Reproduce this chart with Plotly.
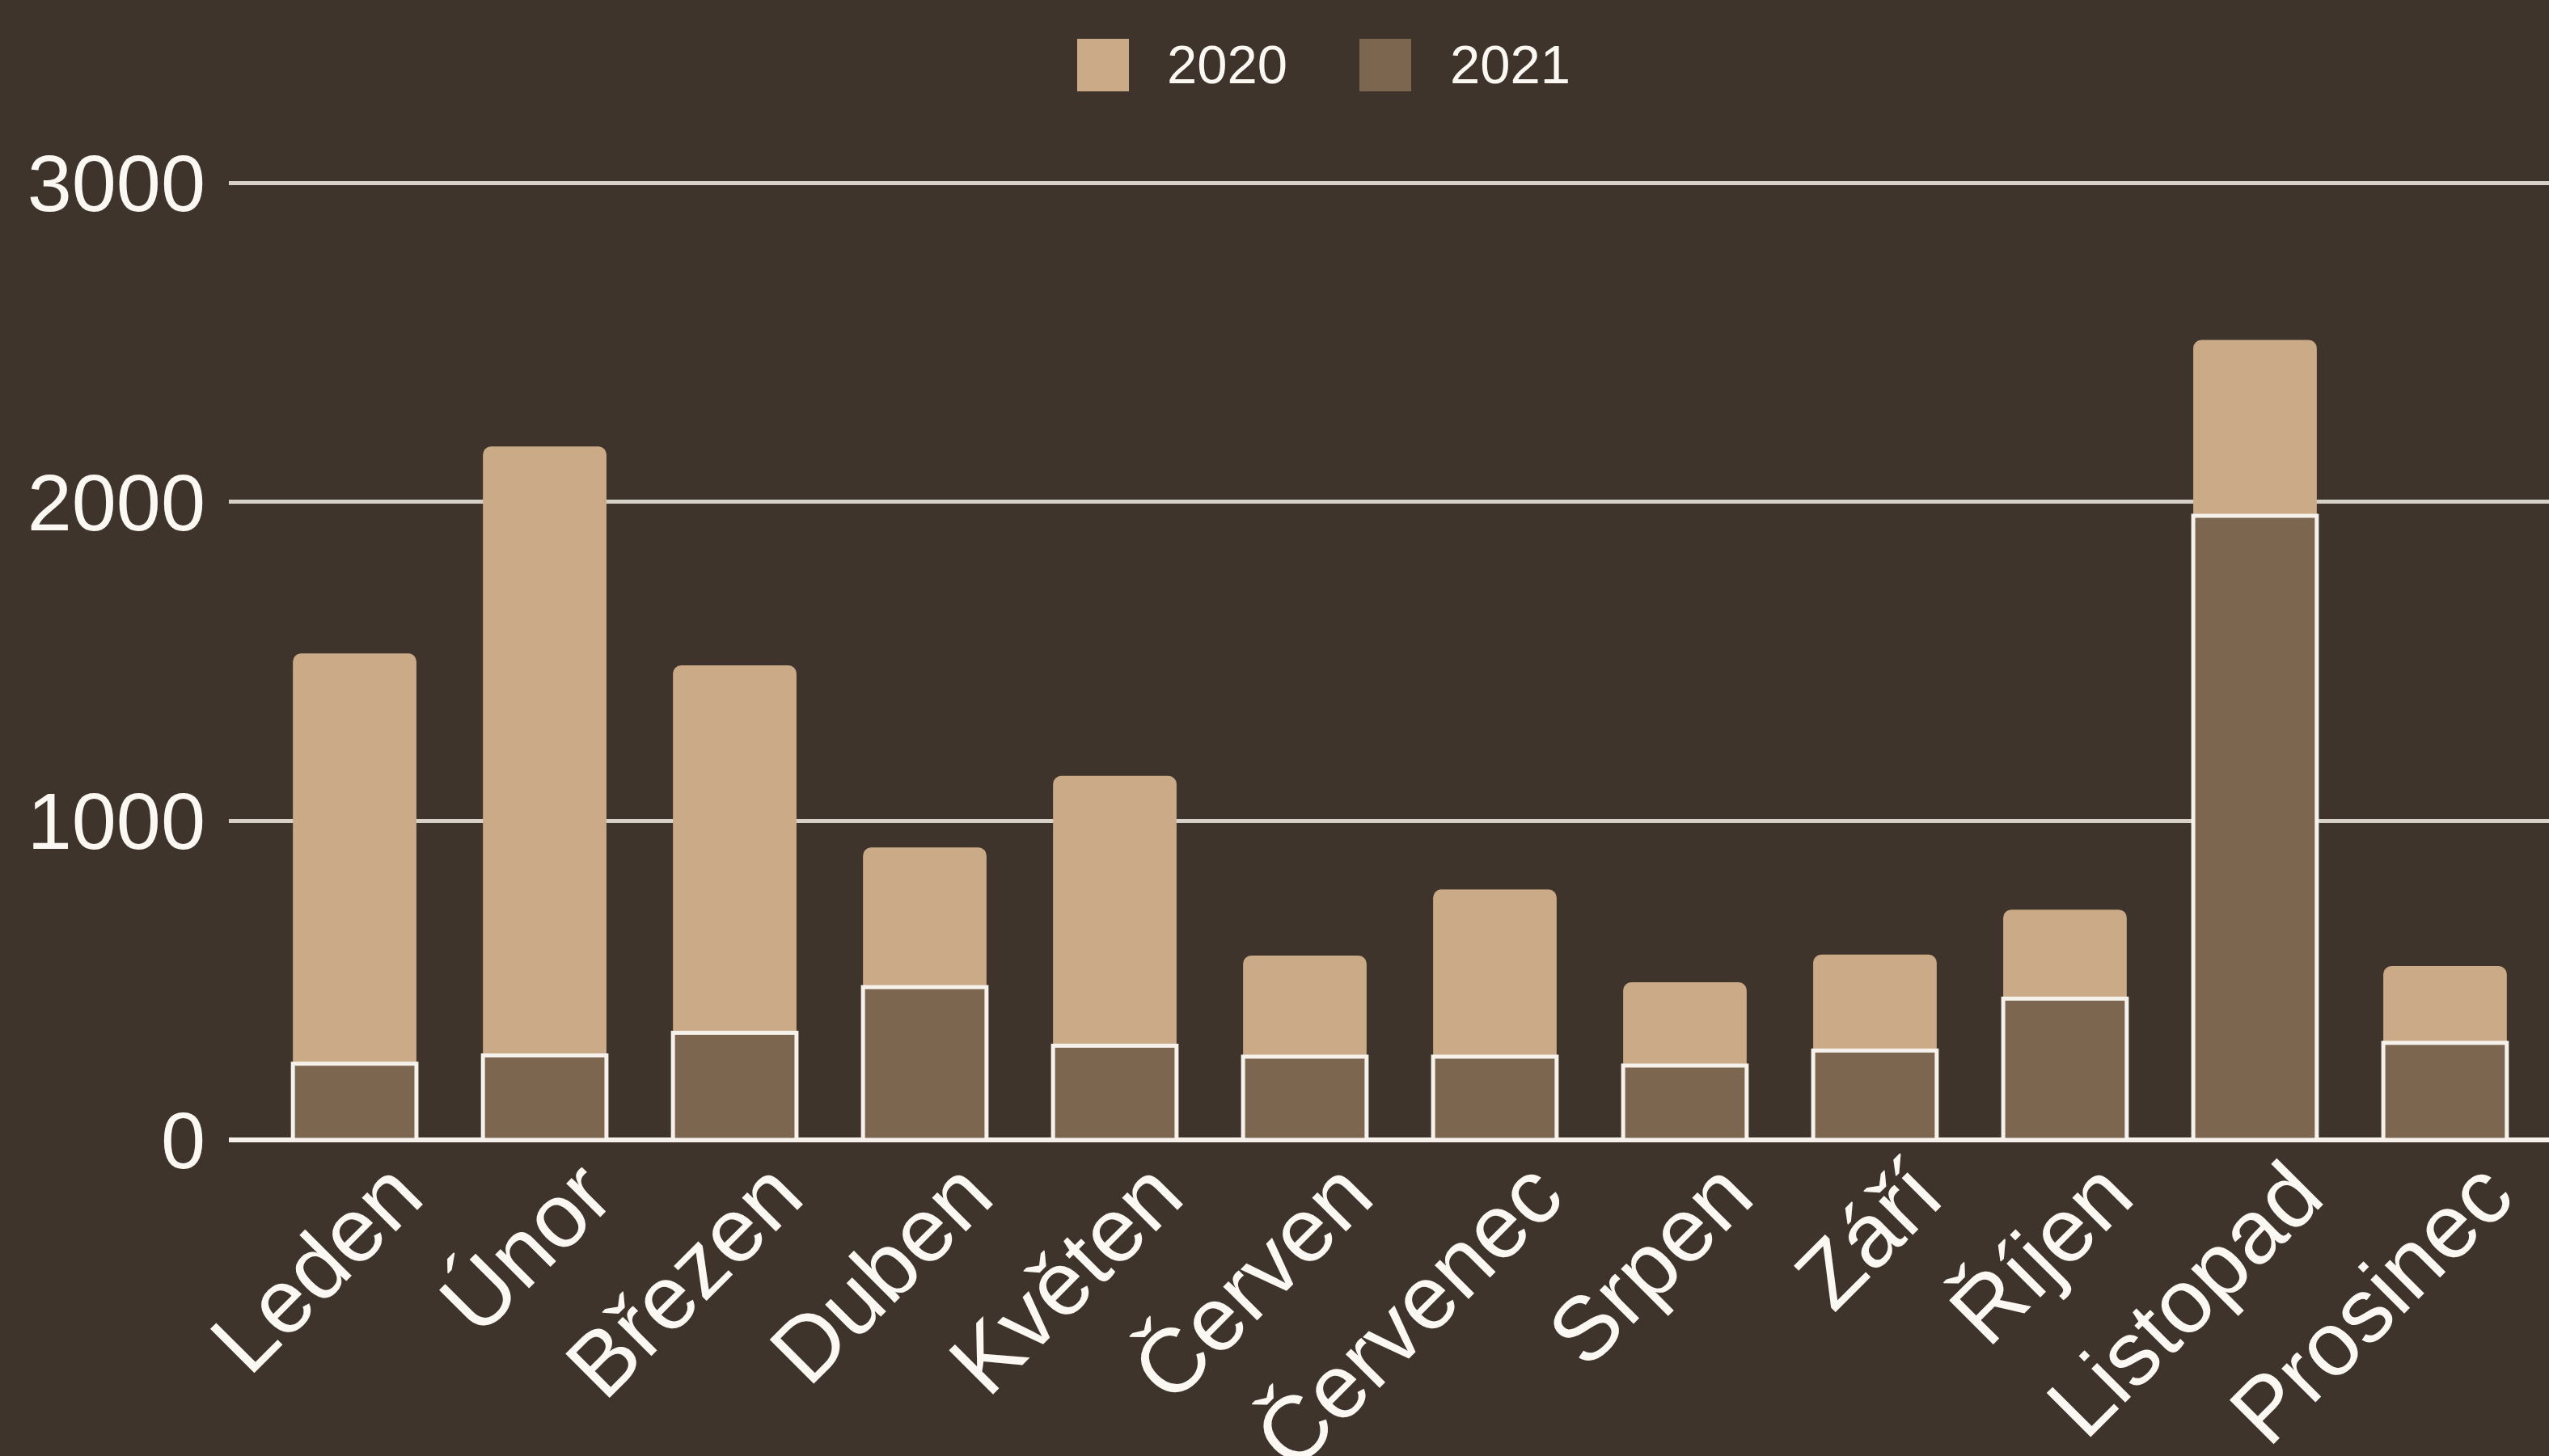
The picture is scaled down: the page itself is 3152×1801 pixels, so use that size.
import unicodedata
import plotly.graph_objects as go

months = ["Leden", "\u00danor", "B\u0159ezen", "Duben", "Kv\u011bten", "\u010cerven",
          "\u010cervenec", "Srpen", "Z\u00e1\u0159\u00ed", "\u0158\u00edjen", "Listopad", "Prosinec"]
months = [unicodedata.normalize("NFC", m) for m in months]
values_2020 = [1525, 2174, 1488, 917, 1141, 578, 785, 494, 581, 722, 2508, 545]
values_2021 = [239, 265, 336, 479, 295, 261, 261, 233, 280, 443, 1957, 304]
series_names = ["2020", "2021"]
y_ticks = [0, 1000, 2000, 3000]

W, H = 3152, 1801
BG = "#3e342b"
C2020 = "#cbab87"
C2021 = "#7c664f"
TXT = "#fbf8f3"
FONT = "Liberation Sans, Arial, Helvetica, sans-serif"

# plot geometry (pixels)
L, R_, B = 283, 0, 391
y_top_val = 3100
px_per_unit = 1184 / 3000
T = int(round((H - B) - y_top_val * px_per_unit))
plot_w = W - L - R_
plot_h = H - T - B

fig = go.Figure()
fig.add_trace(go.Bar(
    x=months, y=values_2020, name=series_names[0],
    marker=dict(color=C2020, line=dict(width=0), cornerradius=10),
    width=0.65, showlegend=False,
))
fig.add_trace(go.Bar(
    x=months, y=values_2021, name=series_names[1],
    marker=dict(color=C2021, line=dict(color="#f6f1ea", width=5)),
    width=0.65, showlegend=False,
))

# legend drawn manually (large square swatches)
def px_to_paper_x(px):
    return (px - L) / plot_w

def py_to_paper_y(py):
    return ((H - B) - py) / plot_h

legend_items = [(series_names[0], C2020, 1332, 1441), (series_names[1], C2021, 1681, 1791)]
shapes = []
annotations = []
for name, col, sx, tx in legend_items:
    shapes.append(dict(
        type="rect", xref="paper", yref="paper",
        x0=px_to_paper_x(sx), x1=px_to_paper_x(sx + 64),
        y0=py_to_paper_y(113), y1=py_to_paper_y(48),
        fillcolor=col, line=dict(width=0), layer="above",
    ))
    annotations.append(dict(
        text=name, xref="paper", yref="paper",
        x=px_to_paper_x(tx), y=py_to_paper_y(80),
        xanchor="left", yanchor="middle", showarrow=False,
        font=dict(family=FONT, size=67, color=TXT),
    ))

fig.update_layout(
    width=W, height=H,
    barmode="overlay",
    paper_bgcolor=BG, plot_bgcolor=BG,
    margin=dict(l=L, r=R_, t=T, b=B, pad=0, autoexpand=False),
    font=dict(family=FONT, color=TXT),
    shapes=shapes, annotations=annotations,
    showlegend=False,
    xaxis=dict(
        range=[-0.662, 11.547],
        tickangle=-45,
        tickfont=dict(family=FONT, size=112, color=TXT),
        showgrid=False, zeroline=False, showline=False, ticks="",
        automargin=False,
        ticklabelstandoff=-22,
        ticklabelshift=50,
    ),
    yaxis=dict(
        range=[0, y_top_val],
        tickvals=y_ticks,
        tickfont=dict(family=FONT, size=99, color=TXT),
        showgrid=True, gridcolor="#d6d0c9", gridwidth=5,
        zeroline=True, zerolinecolor="#f6f1ea", zerolinewidth=6,
        showline=False, ticks="",
        automargin=False,
        ticklabelstandoff=28,
    ),
)

post = ("document.body.style.margin='0';"
        "document.body.style.padding='0';"
        "document.body.style.overflow='hidden';"
        "document.body.style.background='" + BG + "';")

fig.write_html("out.html", config={"displayModeBar": False}, post_script=post)
